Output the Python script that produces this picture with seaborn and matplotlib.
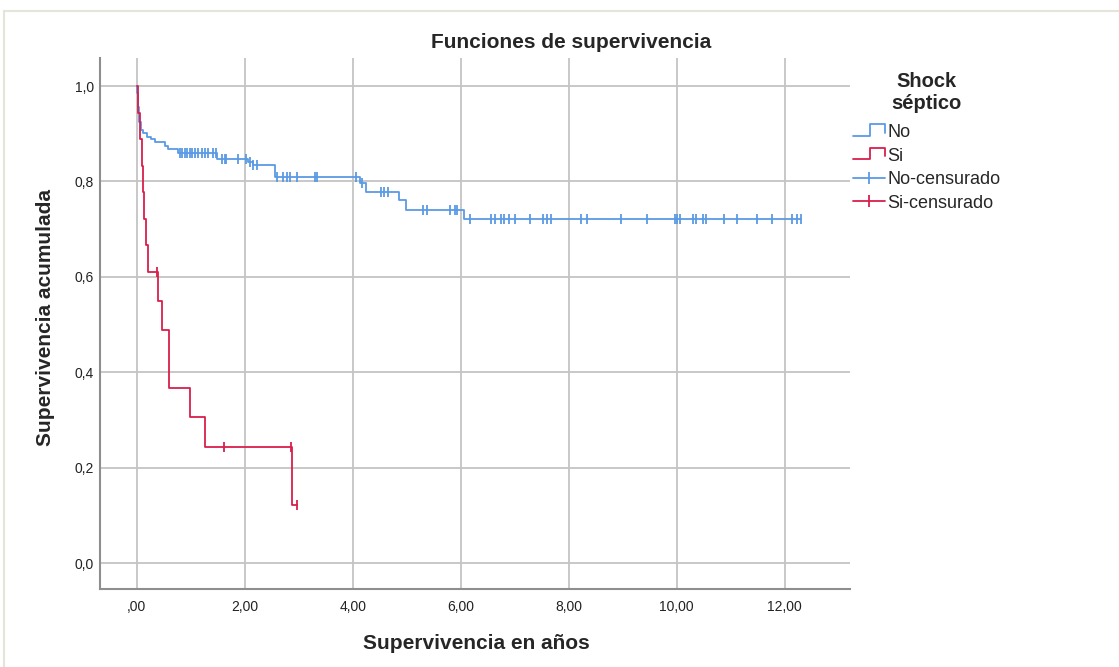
import matplotlib
matplotlib.use("Agg")
import numpy as np
import pandas as pd
import seaborn as sns
import matplotlib.pyplot as plt
from matplotlib.lines import Line2D
from matplotlib.legend_handler import HandlerBase
from matplotlib.patches import Rectangle

# ---------------- data ----------------
group_names = ["No", "Si"]
legend_labels = ["No", "Si", "No-censurado", "Si-censurado"]
legend_title = "Shock\nséptico"

# Kaplan-Meier step function, group "No"
times_no = [0.0, 0.01, 0.02, 0.03, 0.04, 0.05, 0.07, 0.12, 0.19, 0.26, 0.33,
            0.53, 0.58, 0.76, 1.48, 2.06, 2.15, 2.56, 4.13, 4.24, 4.86, 4.98, 6.06]
surv_no = [1.0, 0.985, 0.97, 0.955, 0.94, 0.925, 0.908, 0.901, 0.894, 0.888, 0.882,
           0.874, 0.867, 0.859, 0.848, 0.841, 0.835, 0.810, 0.796, 0.778, 0.760, 0.741, 0.722]
censor_no = [0.80, 0.83, 0.89, 0.93, 0.98, 1.03, 1.07, 1.14, 1.20, 1.26, 1.32, 1.41,
             1.46, 1.57, 1.63, 1.66, 1.88, 2.02, 2.09, 2.15, 2.22, 2.59, 2.71, 2.78,
             2.83, 2.96, 3.30, 3.34, 4.06, 4.18, 4.53, 4.58, 4.65, 5.30, 5.37, 5.80,
             5.89, 5.94, 6.18, 6.57, 6.63, 6.75, 6.81, 6.90, 7.00, 7.28, 7.52, 7.60,
             7.68, 8.23, 8.33, 8.96, 9.45, 9.96, 10.00, 10.06, 10.30, 10.36, 10.49,
             10.54, 10.87, 11.12, 11.49, 11.77, 12.14, 12.23, 12.31]

# Kaplan-Meier step function, group "Si"
times_si = [0.0, 0.02, 0.06, 0.09, 0.12, 0.14, 0.18, 0.20, 0.39, 0.46, 0.60,
            0.605, 0.98, 1.27, 2.87]
surv_si = [1.0, 0.944, 0.889, 0.833, 0.778, 0.722, 0.667, 0.611, 0.550, 0.489,
           0.428, 0.367, 0.306, 0.244, 0.122]
censor_si = [0.37, 1.62, 2.85, 2.97]

x_ticks = [0, 2, 4, 6, 8, 10, 12]
x_tick_labels = [",00", "2,00", "4,00", "6,00", "8,00", "10,00", "12,00"]
y_ticks = [0.0, 0.2, 0.4, 0.6, 0.8, 1.0]
y_tick_labels = ["0,0", "0,2", "0,4", "0,6", "0,8", "1,0"]

colors = {"No": "#5A9AE4", "Si": "#D81F4C"}

# ---------------- build tables ----------------
def step_value(times, surv, t):
    i = np.searchsorted(times, t, side="right") - 1
    return surv[i]

rows_step, rows_cens = [], []
for g, tt, ss, cc in [("No", times_no, surv_no, censor_no),
                      ("Si", times_si, surv_si, censor_si)]:
    end = max(max(cc), max(tt))
    for t, s in zip(list(tt) + [end], list(ss) + [ss[-1]]):
        rows_step.append({"tiempo": t, "superv": s, "grupo": g})
    for t in cc:
        rows_cens.append({"tiempo": t, "superv": step_value(tt, ss, t), "grupo": g})
df_step = pd.DataFrame(rows_step)
df_cens = pd.DataFrame(rows_cens)

# ---------------- figure ----------------
sns.set_style("white")
plt.rcParams["font.family"] = ["Liberation Sans", "DejaVu Sans"]

W, H = 1119, 667
fig = plt.figure(figsize=(W / 100, H / 100), dpi=100)
L, R, T, B = 99.5, 850, 58, 589
ax = fig.add_axes([L / W, 1 - B / H, (R - L) / W, (B - T) / H])

for g in group_names:
    sub = df_step[df_step.grupo == g]
    sns.lineplot(data=sub, x="tiempo", y="superv", color=colors[g], ax=ax,
                 drawstyle="steps-post", estimator=None, sort=False,
                 linewidth=1.3, legend=False, zorder=3)
    subc = df_cens[df_cens.grupo == g]
    sns.scatterplot(data=subc, x="tiempo", y="superv", color=colors[g], ax=ax,
                    marker="|", s=60, linewidth=1.3, legend=False, zorder=4)

ax.set_xlim(-0.69, 13.21)
ax.set_ylim(-0.0545, 1.0587)
ax.set_xticks(x_ticks)
ax.set_xticklabels(x_tick_labels)
ax.set_yticks(y_ticks)
ax.set_yticklabels(y_tick_labels)
ax.grid(True, color="#C4C4C4", linewidth=1.3)
ax.set_axisbelow(True)
for s in ["top", "right"]:
    ax.spines[s].set_visible(False)
for s in ["left", "bottom"]:
    ax.spines[s].set_color("#8E8E8E")
    ax.spines[s].set_linewidth(1.5)
ax.tick_params(length=0, labelsize=10, colors="#222222")
ax.tick_params(axis="x", pad=8)
ax.tick_params(axis="y", pad=4)

ax.set_xlabel("Supervivencia en años", fontsize=15, fontweight="bold")
ax.set_ylabel("Supervivencia acumulada", fontsize=15, fontweight="bold")
ax.xaxis.set_label_coords((476 - L) / (R - L), (B - 634) / (B - T))
ax.yaxis.set_label_coords((55 - L) / (R - L), (B - 318) / (B - T))

fig.text(571 / W, 1 - 42 / H, "Funciones de supervivencia", ha="center",
         va="center", fontsize=15, fontweight="bold")

# outer light frame
fig.patches.append(Rectangle((4 / W, -0.2), 1.2, 1.2 - 11 / H, transform=fig.transFigure,
                             fill=False, edgecolor="#E4E4D8", linewidth=1.5))

# ---------------- legend ----------------
class StepHandler(HandlerBase):
    def create_artists(self, legend, orig_handle, xdescent, ydescent, width, height,
                       fontsize, trans):
        x0 = -xdescent
        y0 = -ydescent
        xs = [x0, x0 + 0.55 * width, x0 + 0.55 * width, x0 + width, x0 + width]
        ys = [y0 + 0.1 * height, y0 + 0.1 * height, y0 + 1.0 * height,
              y0 + 1.0 * height, y0 + 0.35 * height]
        ln = Line2D(xs, ys, color=orig_handle.get_color(), linewidth=1.3)
        ln.set_transform(trans)
        return [ln]

h_no = Line2D([], [], color=colors["No"], linewidth=1.3)
h_si = Line2D([], [], color=colors["Si"], linewidth=1.3)
h_nc = Line2D([], [], color=colors["No"], linewidth=1.3, marker="|", markersize=9,
              markeredgewidth=1.3)
h_sc = Line2D([], [], color=colors["Si"], linewidth=1.3, marker="|", markersize=9,
              markeredgewidth=1.3)
leg = fig.legend([h_no, h_si, h_nc, h_sc], legend_labels, loc="upper left",
                 bbox_to_anchor=(853 / W, 1 - 72 / H), frameon=False,
                 borderaxespad=0, borderpad=0,
                 handler_map={h_no: StepHandler(), h_si: StepHandler()},
                 numpoints=1, handlelength=1.75, handletextpad=0.17,
                 labelspacing=0.36, fontsize=13, title=legend_title,
                 title_fontproperties={"size": 14.5, "weight": "bold"})
leg.get_title().set_multialignment("center")
leg._legend_box.sep = 8

fig.savefig("out.png", dpi=100)
